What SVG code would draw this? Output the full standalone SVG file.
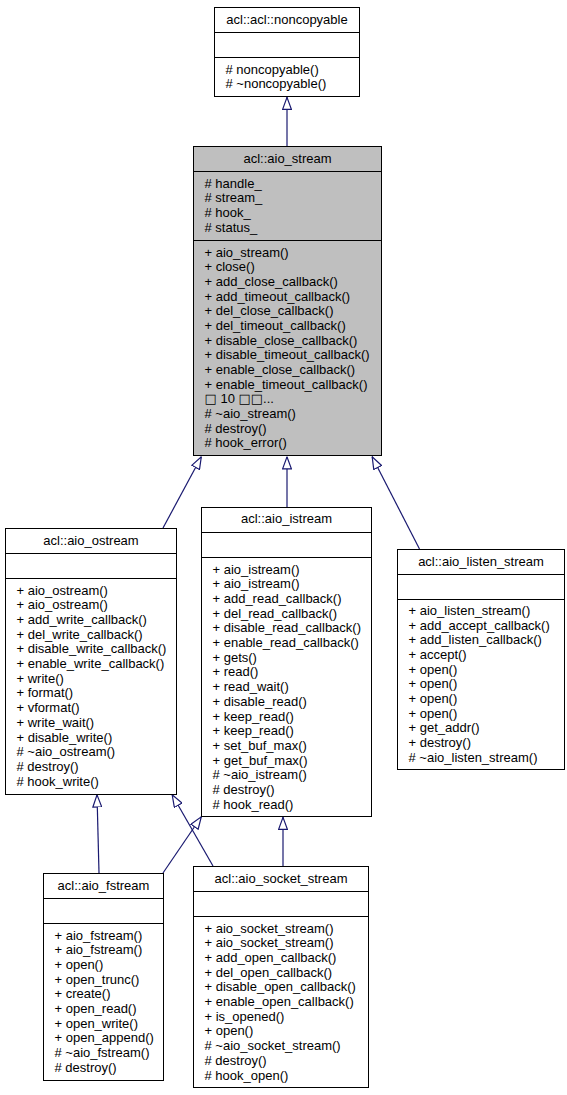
<svg xmlns="http://www.w3.org/2000/svg" width="567" height="1095" viewBox="0 0 567 1095">
<defs>
<style>
.box{fill:#fff;stroke:#000;stroke-width:1}
.root{fill:#bfbfbf}
.sep{stroke:#000;stroke-width:1;fill:none}
.t{font-family:"Liberation Sans",Arial,sans-serif;font-size:13px;fill:#000}
.c{text-anchor:middle}
.sq{font-family:"DejaVu Sans",sans-serif;font-size:13px}
.e{stroke:#191970;stroke-width:1.2;fill:none;marker-end:url(#tri)}
</style>
<marker id="tri" viewBox="0 0 13 10" refX="13" refY="5" markerWidth="13" markerHeight="10" markerUnits="userSpaceOnUse" orient="auto">
<path d="M0.6,0.6 L12.6,5 L0.6,9.4 Z" fill="#fff" stroke="#191970" stroke-width="1.2"/>
</marker>
</defs>
<rect width="567" height="1095" fill="#fff"/>
<g id="connectors">
<line class="e" x1="287" y1="146" x2="287" y2="97"/>
<line class="e" x1="163" y1="528" x2="201.5" y2="456.5"/>
<line class="e" x1="287" y1="507" x2="287" y2="456.5"/>
<line class="e" x1="419.5" y1="549" x2="372" y2="456.5"/>
<line class="e" x1="99" y1="873" x2="97" y2="794.5"/>
<line class="e" x1="213" y1="866" x2="172" y2="794.5"/>
<line class="e" x1="163" y1="873" x2="201.5" y2="816.5"/>
<line class="e" x1="283" y1="866" x2="283" y2="817"/>
</g>
<g id="noncopyable">
<rect class="box" x="214.5" y="7.5" width="145" height="89"/>
<path class="sep" d="M214.5,32.5H359.5M214.5,57.5H359.5"/>
<text class="t c" x="287" y="24">acl::acl::noncopyable</text>
<text class="t" x="225.5" y="73.5"><tspan x="225.5"># noncopyable()</tspan><tspan x="225.5" dy="14.67"># ~noncopyable()</tspan></text>
</g>
<g id="aio_stream">
<rect class="box root" x="193.5" y="146.5" width="188" height="309"/>
<path class="sep" d="M193.5,171.5H381.5M193.5,240.5H381.5"/>
<text class="t c" x="287.5" y="163">acl::aio_stream</text>
<text class="t" x="204.5" y="187.5"><tspan x="204.5"># handle_</tspan><tspan x="204.5" dy="14.67"># stream_</tspan><tspan x="204.5" dy="14.67"># hook_</tspan><tspan x="204.5" dy="14.67"># status_</tspan></text>
<text class="t" x="204.5" y="256.5"><tspan x="204.5">+ aio_stream()</tspan><tspan x="204.5" dy="14.67">+ close()</tspan><tspan x="204.5" dy="14.67">+ add_close_callback()</tspan><tspan x="204.5" dy="14.67">+ add_timeout_callback()</tspan><tspan x="204.5" dy="14.67">+ del_close_callback()</tspan><tspan x="204.5" dy="14.67">+ del_timeout_callback()</tspan><tspan x="204.5" dy="14.67">+ disable_close_callback()</tspan><tspan x="204.5" dy="14.67">+ disable_timeout_callback()</tspan><tspan x="204.5" dy="14.67">+ enable_close_callback()</tspan><tspan x="204.5" dy="14.67">+ enable_timeout_callback()</tspan><tspan x="204.5" dy="14.67"><tspan class="sq">□</tspan> 10 <tspan class="sq">□□</tspan>...</tspan><tspan x="204.5" dy="14.67"># ~aio_stream()</tspan><tspan x="204.5" dy="14.67"># destroy()</tspan><tspan x="204.5" dy="14.67"># hook_error()</tspan></text>
</g>
<g id="aio_ostream">
<rect class="box" x="5.5" y="528.5" width="171" height="266"/>
<path class="sep" d="M5.5,553.5H176.5M5.5,578.5H176.5"/>
<text class="t c" x="91" y="545">acl::aio_ostream</text>
<text class="t" x="16.5" y="594.8"><tspan x="16.5">+ aio_ostream()</tspan><tspan x="16.5" dy="14.67">+ aio_ostream()</tspan><tspan x="16.5" dy="14.67">+ add_write_callback()</tspan><tspan x="16.5" dy="14.67">+ del_write_callback()</tspan><tspan x="16.5" dy="14.67">+ disable_write_callback()</tspan><tspan x="16.5" dy="14.67">+ enable_write_callback()</tspan><tspan x="16.5" dy="14.67">+ write()</tspan><tspan x="16.5" dy="14.67">+ format()</tspan><tspan x="16.5" dy="14.67">+ vformat()</tspan><tspan x="16.5" dy="14.67">+ write_wait()</tspan><tspan x="16.5" dy="14.67">+ disable_write()</tspan><tspan x="16.5" dy="14.67"># ~aio_ostream()</tspan><tspan x="16.5" dy="14.67"># destroy()</tspan><tspan x="16.5" dy="14.67"># hook_write()</tspan></text>
</g>
<g id="aio_istream">
<rect class="box" x="201.5" y="507.5" width="170" height="309"/>
<path class="sep" d="M201.5,532.5H371.5M201.5,557.5H371.5"/>
<text class="t c" x="286.5" y="523">acl::aio_istream</text>
<text class="t" x="212.5" y="573.8"><tspan x="212.5">+ aio_istream()</tspan><tspan x="212.5" dy="14.67">+ aio_istream()</tspan><tspan x="212.5" dy="14.67">+ add_read_callback()</tspan><tspan x="212.5" dy="14.67">+ del_read_callback()</tspan><tspan x="212.5" dy="14.67">+ disable_read_callback()</tspan><tspan x="212.5" dy="14.67">+ enable_read_callback()</tspan><tspan x="212.5" dy="14.67">+ gets()</tspan><tspan x="212.5" dy="14.67">+ read()</tspan><tspan x="212.5" dy="14.67">+ read_wait()</tspan><tspan x="212.5" dy="14.67">+ disable_read()</tspan><tspan x="212.5" dy="14.67">+ keep_read()</tspan><tspan x="212.5" dy="14.67">+ keep_read()</tspan><tspan x="212.5" dy="14.67">+ set_buf_max()</tspan><tspan x="212.5" dy="14.67">+ get_buf_max()</tspan><tspan x="212.5" dy="14.67"># ~aio_istream()</tspan><tspan x="212.5" dy="14.67"># destroy()</tspan><tspan x="212.5" dy="14.67"># hook_read()</tspan></text>
</g>
<g id="aio_listen_stream">
<rect class="box" x="397.5" y="549.5" width="167" height="220"/>
<path class="sep" d="M397.5,574.5H564.5M397.5,599.5H564.5"/>
<text class="t c" x="481" y="566">acl::aio_listen_stream</text>
<text class="t" x="408.5" y="615"><tspan x="408.5">+ aio_listen_stream()</tspan><tspan x="408.5" dy="14.67">+ add_accept_callback()</tspan><tspan x="408.5" dy="14.67">+ add_listen_callback()</tspan><tspan x="408.5" dy="14.67">+ accept()</tspan><tspan x="408.5" dy="14.67">+ open()</tspan><tspan x="408.5" dy="14.67">+ open()</tspan><tspan x="408.5" dy="14.67">+ open()</tspan><tspan x="408.5" dy="14.67">+ open()</tspan><tspan x="408.5" dy="14.67">+ get_addr()</tspan><tspan x="408.5" dy="14.67">+ destroy()</tspan><tspan x="408.5" dy="14.67"># ~aio_listen_stream()</tspan></text>
</g>
<g id="aio_fstream">
<rect class="box" x="43.5" y="873.5" width="120" height="207"/>
<path class="sep" d="M43.5,898.5H163.5M43.5,923.5H163.5"/>
<text class="t c" x="103.5" y="890">acl::aio_fstream</text>
<text class="t" x="54.5" y="939.8"><tspan x="54.5">+ aio_fstream()</tspan><tspan x="54.5" dy="14.67">+ aio_fstream()</tspan><tspan x="54.5" dy="14.67">+ open()</tspan><tspan x="54.5" dy="14.67">+ open_trunc()</tspan><tspan x="54.5" dy="14.67">+ create()</tspan><tspan x="54.5" dy="14.67">+ open_read()</tspan><tspan x="54.5" dy="14.67">+ open_write()</tspan><tspan x="54.5" dy="14.67">+ open_append()</tspan><tspan x="54.5" dy="14.67"># ~aio_fstream()</tspan><tspan x="54.5" dy="14.67"># destroy()</tspan></text>
</g>
<g id="aio_socket_stream">
<rect class="box" x="193.5" y="866.5" width="175" height="221"/>
<path class="sep" d="M193.5,891.5H368.5M193.5,916.5H368.5"/>
<text class="t c" x="281" y="883">acl::aio_socket_stream</text>
<text class="t" x="204.5" y="932.8"><tspan x="204.5">+ aio_socket_stream()</tspan><tspan x="204.5" dy="14.67">+ aio_socket_stream()</tspan><tspan x="204.5" dy="14.67">+ add_open_callback()</tspan><tspan x="204.5" dy="14.67">+ del_open_callback()</tspan><tspan x="204.5" dy="14.67">+ disable_open_callback()</tspan><tspan x="204.5" dy="14.67">+ enable_open_callback()</tspan><tspan x="204.5" dy="14.67">+ is_opened()</tspan><tspan x="204.5" dy="14.67">+ open()</tspan><tspan x="204.5" dy="14.67"># ~aio_socket_stream()</tspan><tspan x="204.5" dy="14.67"># destroy()</tspan><tspan x="204.5" dy="14.67"># hook_open()</tspan></text>
</g>
</svg>
